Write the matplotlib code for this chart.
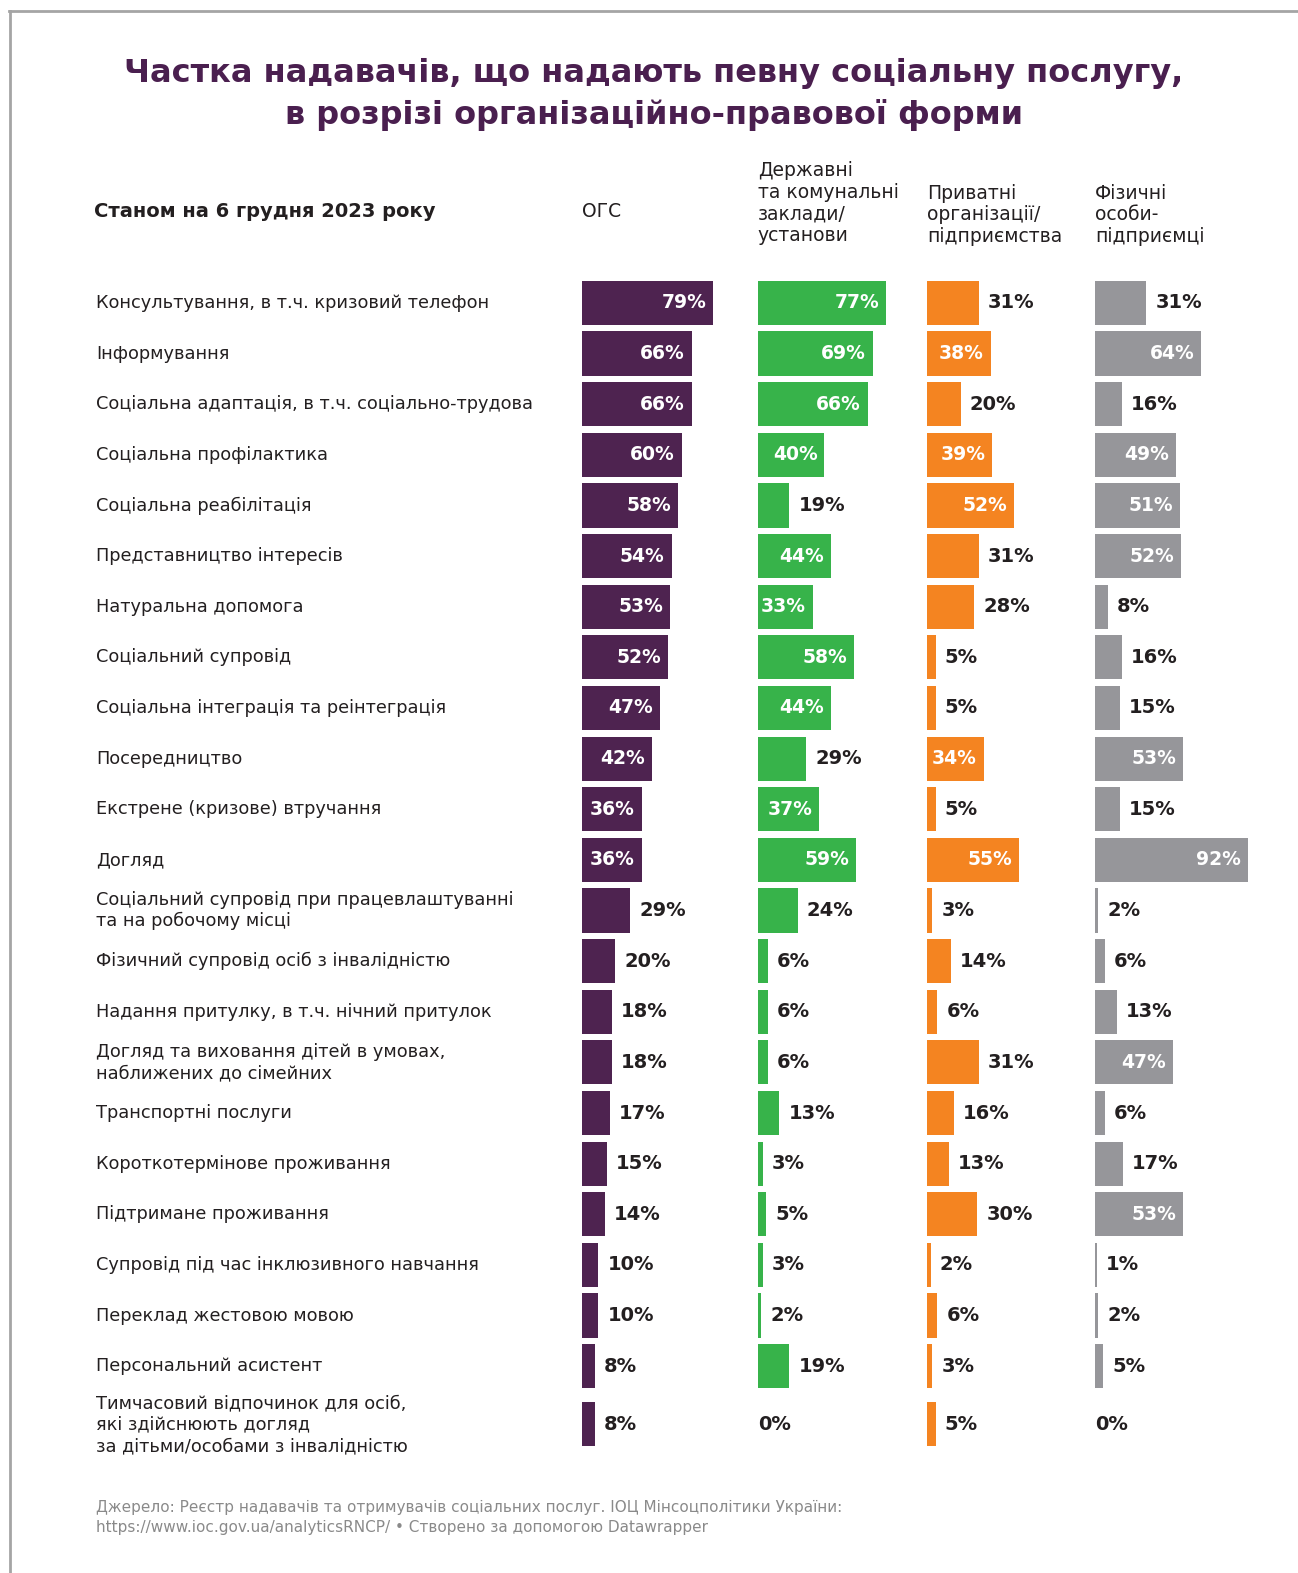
import matplotlib
matplotlib.use("Agg")
import matplotlib.pyplot as plt
import matplotlib.transforms as mtransforms
from matplotlib.lines import Line2D
import numpy as np

plt.rcParams['font.family'] = ['DejaVu Sans']

# ---------------- data ----------------
categories = [
    "Консультування, в т.ч. кризовий телефон",
    "Інформування",
    "Соціальна адаптація, в т.ч. соціально-трудова",
    "Соціальна профілактика",
    "Соціальна реабілітація",
    "Представництво інтересів",
    "Натуральна допомога",
    "Соціальний супровід",
    "Соціальна інтеграція та реінтеграція",
    "Посередництво",
    "Екстрене (кризове) втручання",
    "Догляд",
    "Соціальний супровід при працевлаштуванні\nта на робочому місці",
    "Фізичний супровід осіб з інвалідністю",
    "Надання притулку, в т.ч. нічний притулок",
    "Догляд та виховання дітей в умовах,\nнаближених до сімейних",
    "Транспортні послуги",
    "Короткотермінове проживання",
    "Підтримане проживання",
    "Супровід під час інклюзивного навчання",
    "Переклад жестовою мовою",
    "Персональний асистент",
    "Тимчасовий відпочинок для осіб,\nякі здійснюють догляд\nза дітьми/особами з інвалідністю",
]
ogs   = [79, 66, 66, 60, 58, 54, 53, 52, 47, 42, 36, 36, 29, 20, 18, 18, 17, 15, 14, 10, 10, 8, 8]
derzh = [77, 69, 66, 40, 19, 44, 33, 58, 44, 29, 37, 59, 24, 6, 6, 6, 13, 3, 5, 3, 2, 19, 0]
pryv  = [31, 38, 20, 39, 52, 31, 28, 5, 5, 34, 5, 55, 3, 14, 6, 31, 16, 13, 30, 2, 6, 3, 5]
fiz   = [31, 64, 16, 49, 51, 52, 8, 16, 15, 53, 15, 92, 2, 6, 13, 47, 6, 17, 53, 1, 2, 5, 0]

column_titles = ["ОГС",
                 "Державні\nта комунальні\nзаклади/\nустанови",
                 "Приватні\nорганізації/\nпідприємства",
                 "Фізичні\nособи-\nпідприємці"]
series = [ogs, derzh, pryv, fiz]
colors = ["#4E2350", "#37B34A", "#F48421", "#96969A"]

title = "Частка надавачів, що надають певну соціальну послугу,\nв розрізі організаційно-правової форми"
subtitle = "Станом на 6 грудня 2023 року"
footer = ("Джерело: Реєстр надавачів та отримувачів соціальних послуг. ІОЦ Мінсоцполітики України:\n"
          "https://www.ioc.gov.ua/analyticsRNCP/ • Створено за допомогою Datawrapper")

# ---------------- layout ----------------
W, H = 1298, 1573
S = 1298 / 1294  # coordinates were measured on the reduced preview
fig = plt.figure(figsize=(W / 100, H / 100), dpi=100)
fig.patch.set_facecolor("white")

def fx(px):
    return px * S / W

def fy(py):
    return 1 - py * S / H

# row positions (taller rows for 3-line labels)
nlines = np.array([c.count("\n") + 1 for c in categories])
heights = 1 + 0.3 * np.clip(nlines - 2, 0, None)
pos = np.zeros(len(categories))
for i in range(1, len(categories)):
    pos[i] = pos[i - 1] + (heights[i - 1] + heights[i]) / 2

first_c, last_c = 302, 1420
unit = (last_c - first_c) / pos[-1]
top_px = first_c - 0.5 * unit
bot_px = last_c + 0.5 * unit
bar_h = 44 / unit

col_left = [580, 755.5, 924.5, 1091.5]
col_w = 166
dark = "#231F20"

axes = []
for k in range(4):
    ax = fig.add_axes([fx(col_left[k]), fy(bot_px), fx(col_w), (bot_px - top_px) * S / H])
    ax.set_xlim(0, 100)
    ax.set_ylim(pos[-1] + 0.5, -0.5)
    ax.axis("off")
    vals = series[k]
    ax.barh(pos, vals, height=bar_h, color=colors[k], linewidth=0)
    for y, v in zip(pos, vals):
        if v >= 33:
            ax.annotate(f"{v}%", (v, y), xytext=(-5, 0), textcoords="offset points",
                        ha="right", va="center", color="white", fontsize=13.5,
                        fontweight="semibold")
        else:
            off = 6.5 if v > 0 else 0
            ax.annotate(f"{v}%", (v, y), xytext=(off, 0), textcoords="offset points",
                        ha="left", va="center", color=dark, fontsize=14,
                        fontweight="semibold")
    axes.append(ax)

# row labels
trans = mtransforms.blended_transform_factory(fig.transFigure, axes[0].transData)
for y, c in zip(pos, categories):
    axes[0].text(fx(96), y, c, transform=trans, ha="left", va="center",
                 fontsize=12.8, color=dark, linespacing=1.25, clip_on=False)

# title
fig.text(fx(652), fy(94), title, ha="center", va="center", fontsize=23,
         fontweight="bold", color="#4A1F4F", linespacing=1.4)

# headers
fig.text(fx(94), fy(211), subtitle, ha="left", va="center", fontsize=14,
         fontweight="bold", color=dark)
fig.text(fx(580), fy(211), column_titles[0], ha="left", va="center", fontsize=13.5, color=dark)
header_top = [None, 161, 183, 183]
for k in range(1, 4):
    fig.text(fx(col_left[k]), fy(header_top[k]), column_titles[k], ha="left", va="top",
             fontsize=13.5, color=dark, linespacing=1.17)

# footer
fig.text(fx(96), fy(1513), footer, ha="left", va="center", fontsize=11,
         color="#8A8A8A", linespacing=1.45)

# frame lines
fig.add_artist(Line2D([fx(9), 1], [fy(10.5), fy(10.5)], transform=fig.transFigure,
                      color="#A5A5A5", linewidth=2))
fig.add_artist(Line2D([fx(9.5), fx(9.5)], [fy(10.5), 0], transform=fig.transFigure,
                      color="#A5A5A5", linewidth=2))

fig.savefig("out.png", dpi=100, facecolor="white")
